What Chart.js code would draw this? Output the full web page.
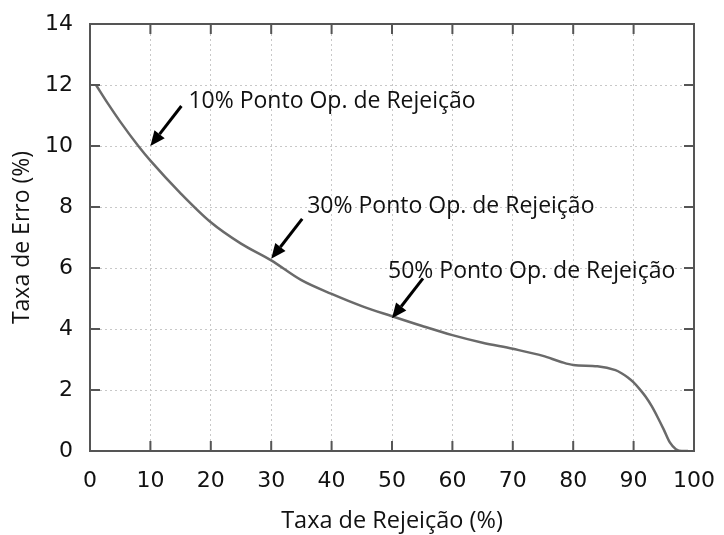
<!DOCTYPE html>
<html lang="pt">
<head>
    <meta charset="UTF-8">
    <title>Taxa de Erro x Taxa de Rejeição</title>
    <script src="https://cdn.jsdelivr.net/npm/chart.js"></script>
    <style>
        body {
            margin: 0;
            background: #ffffff;
        }
        #wrap {
            width: 724px;
            height: 535px;
        }
    </style>
</head>
<body>
    <div id="wrap">
        <canvas id="chart"></canvas>
    </div>

    <script>
        // curve
        const rejectionRate = [1, 3, 5, 8, 10, 15, 20, 25, 30, 35, 40, 45, 50, 55, 60, 65, 70, 75, 78, 80, 84, 87, 88, 89, 90, 91, 92, 93, 94, 95, 96, 97, 98, 99];
        const errorRate = [12.0, 11.38, 10.8, 10.0, 9.52, 8.45, 7.5, 6.8, 6.25, 5.6, 5.15, 4.75, 4.42, 4.1, 3.8, 3.55, 3.35, 3.12, 2.92, 2.82, 2.78, 2.65, 2.55, 2.42, 2.25, 2.03, 1.78, 1.47, 1.1, 0.7, 0.28, 0.06, 0.0, 0.0];

        // operating points marked with arrows
        const opRejection = [10, 30, 50];
        const opError = [10.0, 6.3, 4.35];
        const opLabels = ['10% Ponto Op. de Rejeição', '30% Ponto Op. de Rejeição', '50% Ponto Op. de Rejeição'];

        const xTicks = [0, 10, 20, 30, 40, 50, 60, 70, 80, 90, 100];
        const yTicks = [0, 2, 4, 6, 8, 10, 12, 14];

        // box round the plot, inward ticks, arrows and labels
        const framePlugin = {
            id: 'frame',
            afterDraw(chart) {
                const { ctx, chartArea: a, scales: { x, y } } = chart;
                ctx.save();
                ctx.strokeStyle = '#555';
                ctx.lineWidth = 2;
                ctx.strokeRect(a.left, a.top, a.right - a.left, a.bottom - a.top);

                ctx.beginPath();
                xTicks.forEach(v => {
                    const px = x.getPixelForValue(v);
                    ctx.moveTo(px, a.bottom); ctx.lineTo(px, a.bottom - 10);
                    ctx.moveTo(px, a.top); ctx.lineTo(px, a.top + 10);
                });
                yTicks.forEach(v => {
                    const py = y.getPixelForValue(v);
                    ctx.moveTo(a.left, py); ctx.lineTo(a.left + 10, py);
                    ctx.moveTo(a.right, py); ctx.lineTo(a.right - 10, py);
                });
                ctx.stroke();

                // label offsets from arrow tip, in pixels
                const labelOffsets = [[38, -38], [36, -46], [-4, -40]];
                ctx.font = '23px "Open Sans", sans-serif';
                ctx.textBaseline = 'alphabetic';
                ctx.textAlign = 'left';
                opRejection.forEach((v, i) => {
                    const tx = x.getPixelForValue(v);
                    const ty = y.getPixelForValue(opError[i]);
                    const sx = tx + 31, sy = ty - 40;
                    const ang = Math.atan2(ty - sy, tx - sx);
                    const headLen = 15, headW = 6.5;
                    const bx = tx - headLen * Math.cos(ang);
                    const by = ty - headLen * Math.sin(ang);

                    ctx.strokeStyle = '#000';
                    ctx.lineWidth = 3;
                    ctx.beginPath();
                    ctx.moveTo(sx, sy);
                    ctx.lineTo(bx, by);
                    ctx.stroke();

                    ctx.fillStyle = '#000';
                    ctx.beginPath();
                    ctx.moveTo(tx, ty);
                    ctx.lineTo(bx + headW * Math.sin(ang), by - headW * Math.cos(ang));
                    ctx.lineTo(bx - headW * Math.sin(ang), by + headW * Math.cos(ang));
                    ctx.closePath();
                    ctx.fill();

                    ctx.fillStyle = '#111';
                    ctx.fillText(opLabels[i], tx + labelOffsets[i][0], ty + labelOffsets[i][1]);
                });
                ctx.restore();
            }
        };

        const ctx = document.getElementById('chart').getContext('2d');
        new Chart(ctx, {
            type: 'line',
            data: {
                datasets: [{
                    data: rejectionRate.map((r, i) => ({ x: r, y: errorRate[i] })),
                    borderColor: '#6a6a6a',
                    borderWidth: 2.5,
                    pointRadius: 0,
                    cubicInterpolationMode: 'monotone',
                    fill: false
                }]
            },
            options: {
                responsive: true,
                maintainAspectRatio: false,
                animation: false,
                layout: { padding: { top: 24, right: 30, left: 0, bottom: 0 } },
                plugins: {
                    legend: { display: false },
                    tooltip: { enabled: false }
                },
                scales: {
                    x: {
                        type: 'linear',
                        min: 0,
                        max: 100,
                        afterBuildTicks: s => { s.ticks = xTicks.map(v => ({ value: v })); },
                        afterFit: s => {
                            s.height = 84;
                            s.paddingLeft = 0;
                            s.paddingRight = 0;
                        },
                        grid: {
                            color: ctx => (ctx.tick.value === 0 || ctx.tick.value === 100) ? 'rgba(0,0,0,0)' : '#c8c8c8',
                            lineWidth: 1,
                            drawTicks: false
                        },
                        border: { display: false, dash: [2, 3] },
                        ticks: {
                            padding: 17,
                            color: '#111',
                            font: { family: 'DejaVu Sans', size: 22 }
                        },
                        title: {
                            display: true,
                            text: 'Taxa de Rejeição (%)',
                            color: '#111',
                            font: { family: 'Open Sans', size: 23.5 },
                            padding: { top: 0, bottom: 0 }
                        }
                    },
                    y: {
                        type: 'linear',
                        min: 0,
                        max: 14,
                        afterBuildTicks: s => { s.ticks = yTicks.map(v => ({ value: v })); },
                        afterFit: s => {
                            s.width = 90;
                            s.paddingTop = 0;
                            s.paddingBottom = 0;
                        },
                        grid: {
                            color: ctx => (ctx.tick.value === 0 || ctx.tick.value === 14) ? 'rgba(0,0,0,0)' : '#c8c8c8',
                            lineWidth: 1,
                            drawTicks: false
                        },
                        border: { display: false, dash: [2, 3] },
                        ticks: {
                            padding: 17,
                            color: '#111',
                            font: { family: 'DejaVu Sans', size: 22 }
                        },
                        title: {
                            display: true,
                            text: 'Taxa de Erro (%)',
                            color: '#111',
                            font: { family: 'Open Sans', size: 23 },
                            padding: { top: 9, bottom: 0 }
                        }
                    }
                }
            },
            plugins: [framePlugin]
        });
    </script>
</body>
</html>
